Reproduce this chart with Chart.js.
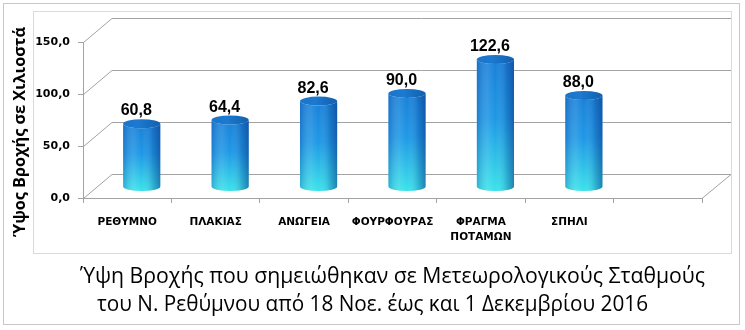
<!DOCTYPE html>
<html><head><meta charset="utf-8">
<script src="https://cdn.jsdelivr.net/npm/chart.js@4"></script>
<style>html,body{margin:0;padding:0;background:#fff}canvas{display:block}</style>
</head><body>
<canvas id="c" width="745" height="330"></canvas>
<script>
const categories = ['ΡΕΘΥΜΝΟ', 'ΠΛΑΚΙΑΣ', 'ΑΝΩΓΕΙΑ', 'ΦΟΥΡΦΟΥΡΑΣ', ['ΦΡΑΓΜΑ', 'ΠΟΤΑΜΩΝ'], 'ΣΠΗΛΙ', ''];
const rainfall = [60.8, 64.4, 82.6, 90.0, 122.6, 88.0, null];
const yTicks = [0, 50, 100, 150];
const yAxisTitle = 'Ύψος Βροχής σε Χιλιοστά';
const titleLines = ['Ύψη Βροχής που σημειώθηκαν σε Μετεωρολογικούς Σταθμούς',
                    'του Ν. Ρεθύμνου από 18 Νοε. έως και 1 Δεκεμβρίου 2016'];

const fmt = v => Number(v).toFixed(1).replace('.', ',');
const DX = 29, DY = -24.5;      // depth of the 3D box
const HX = 14.5, HY = -11;      // bar position inside depth
const GRID = '#a3a3a3';

function stretchText(ctx, text, x, y, width, font) {
  ctx.font = font;
  const w = ctx.measureText(text).width;
  ctx.save();
  ctx.translate(x, y);
  ctx.scale(width / w, 1);
  ctx.textAlign = 'left';
  ctx.textBaseline = 'alphabetic';
  ctx.fillText(text, 0, 0);
  ctx.restore();
}

const deco = {
  id: 'deco',
  beforeDraw(chart) {
    const ctx = chart.ctx;
    ctx.save();
    ctx.fillStyle = '#fff';
    ctx.fillRect(0, 0, chart.width, chart.height);
    ctx.lineWidth = 1;
    ctx.strokeStyle = '#c8c8c8';
    ctx.strokeRect(3.5, 3.5, 736, 321);
    ctx.strokeStyle = '#dadada';
    ctx.strokeRect(33.5, 11.5, 698, 242);
    ctx.restore();
  },
  beforeDatasetsDraw(chart) {
    const ctx = chart.ctx, a = chart.chartArea, ys = chart.scales.y;
    ctx.save();
    ctx.strokeStyle = GRID;
    ctx.lineWidth = 1;
    ctx.beginPath();
    yTicks.forEach(v => {
      const y = Math.round(ys.getPixelForValue(v)) + 0.5;
      const yb = Math.round(y + DY) + 0.5;
      ctx.moveTo(a.left + 0.5, y);
      ctx.lineTo(a.left + DX, yb);
      ctx.lineTo(a.right + DX, yb);
    });
    const yb0 = Math.round(ys.getPixelForValue(0)) + 0.5;
    ctx.moveTo(a.right, yb0);
    ctx.lineTo(a.right + DX, Math.round(yb0 + DY) + 0.5);
    ctx.stroke();
    ctx.restore();
  },
  afterDatasetsDraw(chart) {
    const ctx = chart.ctx, meta = chart.getDatasetMeta(0);
    ctx.save();
    meta.data.forEach((bar, i) => {
      const v = rainfall[i];
      if (v == null) return;
      const p = bar.getProps(['x', 'y', 'base', 'width'], true);
      const cx = p.x + HX, rx = p.width / 2, ry = 4.5;
      const top = p.y + HY, bot = p.base + HY;
      // body
      ctx.beginPath();
      ctx.moveTo(cx - rx, top);
      ctx.lineTo(cx - rx, bot);
      ctx.ellipse(cx, bot, rx, ry, 0, Math.PI, 0, true);
      ctx.lineTo(cx + rx, top);
      ctx.ellipse(cx, top, rx, ry, 0, 0, Math.PI, false);
      ctx.closePath();
      const gv = ctx.createLinearGradient(0, top, 0, bot + ry);
      gv.addColorStop(0, '#1a80d8');
      gv.addColorStop(0.45, '#1f98e6');
      gv.addColorStop(1, '#3be3ea');
      ctx.fillStyle = gv;
      ctx.fill();
      const gh = ctx.createLinearGradient(cx - rx, 0, cx + rx, 0);
      gh.addColorStop(0, 'rgba(10,60,150,0.28)');
      gh.addColorStop(0.3, 'rgba(255,255,255,0.10)');
      gh.addColorStop(0.5, 'rgba(255,255,255,0.0)');
      gh.addColorStop(0.8, 'rgba(10,50,130,0.22)');
      gh.addColorStop(1, 'rgba(10,40,120,0.50)');
      ctx.fillStyle = gh;
      ctx.fill();
      // top
      ctx.beginPath();
      ctx.ellipse(cx, top, rx, ry, 0, 0, Math.PI * 2);
      const gt = ctx.createLinearGradient(cx - rx, 0, cx + rx, 0);
      gt.addColorStop(0, '#1c74c8');
      gt.addColorStop(0.4, '#1b7ad0');
      gt.addColorStop(1, '#135fae');
      ctx.fillStyle = gt;
      ctx.fill();
      // value label
      ctx.fillStyle = '#000';
      ctx.font = 'bold 16px "Liberation Sans"';
      ctx.textAlign = 'center';
      ctx.textBaseline = 'alphabetic';
      ctx.fillText(fmt(v), p.x + 9, top - ry - 4);
    });
    ctx.restore();
  },
  afterDraw(chart) {
    const ctx = chart.ctx;
    ctx.save();
    ctx.fillStyle = '#000';
    // y-axis title
    ctx.translate(25, 237);
    ctx.rotate(-Math.PI / 2);
    stretchText(ctx, yAxisTitle, 0, 0, 210, 'bold 16px "Open Sans"');
    ctx.restore();
    ctx.save();
    ctx.fillStyle = '#000';
    stretchText(ctx, titleLines[0], 80, 283, 625, '22px "Open Sans"');
    stretchText(ctx, titleLines[1], 97, 311, 551, '22px "Open Sans"');
    ctx.restore();
  }
};

new Chart(document.getElementById('c'), {
  type: 'bar',
  data: {
    labels: categories,
    datasets: [{
      data: rainfall,
      backgroundColor: 'rgba(0,0,0,0)',
      borderWidth: 0,
      barPercentage: 0.42,
      categoryPercentage: 1
    }]
  },
  options: {
    responsive: false,
    animation: false,
    devicePixelRatio: 1,
    layout: { padding: { left: 0, top: 42, right: 43, bottom: 0 } },
    plugins: { legend: { display: false }, tooltip: { enabled: false }, title: { display: false } },
    scales: {
      x: {
        offset: true,
        grid: { offset: true, drawOnChartArea: false, tickLength: 5, color: GRID },
        border: { color: GRID },
        ticks: {
          autoSkip: false, maxRotation: 0, minRotation: 0, padding: 11, color: '#000',
          font: { family: 'DejaVu Sans', weight: 'bold', size: 10.5, lineHeight: 1.5 }
        },
        afterFit: s => { s.height = 132; }
      },
      y: {
        min: 0, max: 150,
        afterBuildTicks: s => { s.ticks = yTicks.map(v => ({ value: v })); },
        grid: { drawOnChartArea: false, tickLength: 5, color: GRID },
        border: { color: GRID },
        ticks: {
          padding: 8, color: '#000', callback: v => fmt(v),
          font: { family: 'DejaVu Sans', weight: 'bold', size: 11 }
        },
        afterFit: s => { s.width = 83; }
      }
    }
  },
  plugins: [deco]
});
</script>
</body></html>
